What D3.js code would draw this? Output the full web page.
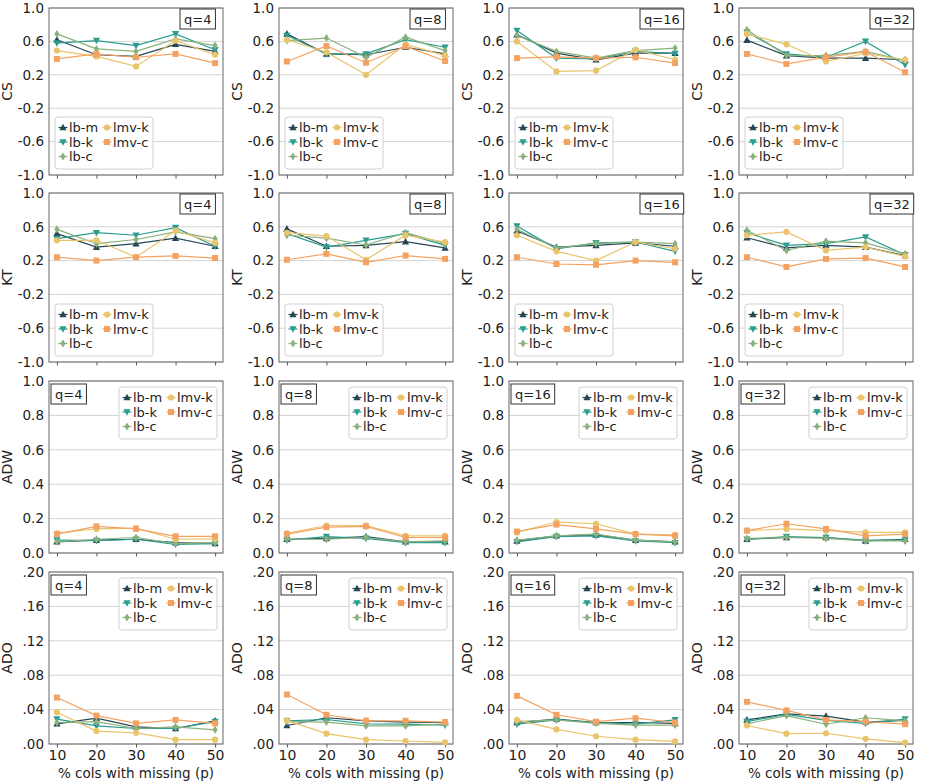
<!DOCTYPE html>
<html>
<head>
<meta charset="utf-8">
<script src="https://cdn.jsdelivr.net/npm/d3@7"></script>
<style>
  body { margin: 0; background: #fff; }
  svg { font-family: "DejaVu Sans", sans-serif; }
</style>
</head>
<body>
<svg id="chart" width="925" height="782"></svg>
<script>
const pValues = [10, 20, 30, 40, 50];
const qValues = [4, 8, 16, 32];
const metricNames = ["CS", "KT", "ADW", "ADO"];
const seriesNames = ["lb-m", "lb-k", "lb-c", "lmv-k", "lmv-c"];
const seriesColors = ["#264653", "#2a9d8f", "#8ab17d", "#e9c46a", "#f4a261"];
const seriesMarkers = ["triUp", "triDown", "diamond", "circle", "square"];
const corrTicks = [-1.0, -0.6, -0.2, 0.2, 0.6, 1.0];
const adwTicks = [0, 0.2, 0.4, 0.6, 0.8, 1.0];
const adoTicks = [0, 0.04, 0.08, 0.12, 0.16, 0.20];

// each panel: one row per series, in seriesNames order
const csQ4 = [
  [0.62, 0.44, 0.42, 0.565, 0.48],
  [0.58, 0.61, 0.55, 0.69, 0.50],
  [0.69, 0.51, 0.48, 0.63, 0.55],
  [0.49, 0.42, 0.30, 0.61, 0.44],
  [0.39, 0.45, 0.41, 0.45, 0.34]];
const csQ8 = [
  [0.69, 0.45, 0.44, 0.53, 0.45],
  [0.67, 0.45, 0.45, 0.62, 0.53],
  [0.61, 0.64, 0.41, 0.65, 0.49],
  [0.62, 0.47, 0.20, 0.565, 0.43],
  [0.36, 0.545, 0.345, 0.54, 0.365]];
const csQ16 = [
  [0.68, 0.46, 0.38, 0.46, 0.46],
  [0.73, 0.40, 0.39, 0.48, 0.455],
  [0.67, 0.48, 0.40, 0.49, 0.52],
  [0.60, 0.24, 0.25, 0.50, 0.38],
  [0.40, 0.415, 0.40, 0.41, 0.34]];
const csQ32 = [
  [0.615, 0.43, 0.40, 0.40, 0.38],
  [0.71, 0.45, 0.41, 0.60, 0.32],
  [0.74, 0.43, 0.43, 0.48, 0.37],
  [0.69, 0.565, 0.36, 0.455, 0.38],
  [0.45, 0.33, 0.41, 0.475, 0.23]];

const ktQ4 = [
  [0.52, 0.36, 0.40, 0.465, 0.37],
  [0.46, 0.53, 0.50, 0.59, 0.37],
  [0.57, 0.40, 0.45, 0.54, 0.46],
  [0.44, 0.44, 0.24, 0.555, 0.41],
  [0.24, 0.20, 0.24, 0.255, 0.23]];
const ktQ8 = [
  [0.575, 0.37, 0.38, 0.425, 0.35],
  [0.52, 0.36, 0.44, 0.52, 0.38],
  [0.50, 0.465, 0.385, 0.53, 0.40],
  [0.53, 0.49, 0.21, 0.50, 0.42],
  [0.21, 0.28, 0.18, 0.26, 0.22]];
const ktQ16 = [
  [0.55, 0.36, 0.38, 0.41, 0.37],
  [0.61, 0.34, 0.41, 0.42, 0.31],
  [0.57, 0.35, 0.40, 0.42, 0.40],
  [0.50, 0.31, 0.20, 0.42, 0.34],
  [0.24, 0.16, 0.15, 0.20, 0.18]];
const ktQ32 = [
  [0.47, 0.35, 0.38, 0.36, 0.26],
  [0.53, 0.38, 0.40, 0.48, 0.27],
  [0.56, 0.32, 0.43, 0.41, 0.28],
  [0.50, 0.54, 0.32, 0.36, 0.25],
  [0.24, 0.125, 0.22, 0.23, 0.125]];

const adwQ4 = [
  [0.065, 0.075, 0.08, 0.06, 0.055],
  [0.075, 0.072, 0.08, 0.05, 0.055],
  [0.065, 0.08, 0.09, 0.055, 0.06],
  [0.115, 0.14, 0.145, 0.08, 0.082],
  [0.11, 0.155, 0.14, 0.097, 0.097]];
const adwQ8 = [
  [0.08, 0.085, 0.095, 0.065, 0.065],
  [0.075, 0.095, 0.085, 0.06, 0.06],
  [0.08, 0.08, 0.09, 0.065, 0.07],
  [0.115, 0.16, 0.16, 0.10, 0.10],
  [0.11, 0.15, 0.155, 0.09, 0.09]];
const adwQ16 = [
  [0.07, 0.10, 0.105, 0.075, 0.065],
  [0.065, 0.095, 0.10, 0.07, 0.06],
  [0.075, 0.10, 0.11, 0.075, 0.065],
  [0.12, 0.18, 0.17, 0.11, 0.105],
  [0.125, 0.165, 0.14, 0.11, 0.10]];
const adwQ32 = [
  [0.08, 0.09, 0.09, 0.07, 0.08],
  [0.08, 0.095, 0.09, 0.075, 0.075],
  [0.085, 0.09, 0.085, 0.07, 0.07],
  [0.13, 0.14, 0.13, 0.12, 0.12],
  [0.13, 0.17, 0.14, 0.10, 0.11]];

const adoQ4 = [
  [0.0235, 0.030, 0.020, 0.018, 0.027],
  [0.029, 0.021, 0.018, 0.018, 0.026],
  [0.025, 0.026, 0.018, 0.020, 0.0165],
  [0.037, 0.015, 0.013, 0.005, 0.005],
  [0.054, 0.033, 0.024, 0.028, 0.024]];
const adoQ8 = [
  [0.0215, 0.0305, 0.027, 0.0255, 0.025],
  [0.027, 0.0285, 0.0235, 0.023, 0.022],
  [0.026, 0.0255, 0.021, 0.021, 0.0235],
  [0.0275, 0.012, 0.005, 0.0035, 0.002],
  [0.0575, 0.034, 0.027, 0.027, 0.0255]];
const adoQ16 = [
  [0.025, 0.029, 0.025, 0.025, 0.024],
  [0.023, 0.028, 0.025, 0.023, 0.028],
  [0.026, 0.028, 0.024, 0.022, 0.022],
  [0.028, 0.017, 0.009, 0.005, 0.003],
  [0.056, 0.034, 0.026, 0.030, 0.025]];
const adoQ32 = [
  [0.028, 0.035, 0.0325, 0.0255, 0.0275],
  [0.026, 0.0345, 0.0275, 0.024, 0.029],
  [0.0235, 0.033, 0.023, 0.0305, 0.027],
  [0.0215, 0.012, 0.0125, 0.006, 0.0015],
  [0.049, 0.039, 0.028, 0.026, 0.023]];

const panelData = [
  [csQ4, csQ8, csQ16, csQ32],
  [ktQ4, ktQ8, ktQ16, ktQ32],
  [adwQ4, adwQ8, adwQ16, adwQ32],
  [adoQ4, adoQ8, adoQ16, adoQ32]];

const rowTicks = [corrTicks, corrTicks, adwTicks, adoTicks];
const rowDomains = [[-1, 1], [-1, 1], [0, 1], [0, 0.2]];
const rowFormats = [
  d => d.toFixed(1),
  d => d.toFixed(1),
  d => d.toFixed(1),
  d => d.toFixed(2).replace(/^0/, "")];

const colLeft = [49, 279, 509, 739];
const plotW = 174;
const rowTop = [8, 193, 381, 572];
const rowHeight = [167, 169, 172, 172];

const svg = d3.select("#chart");

function markerPath(kind) {
  if (kind === "triUp") return "M0,-3.8L3.6,2.8L-3.6,2.8Z";
  if (kind === "triDown") return "M0,3.8L3.6,-2.8L-3.6,-2.8Z";
  if (kind === "diamond") return "M0,-4L2.6,0L0,4L-2.6,0Z";
  if (kind === "square") return "M-3,-3H3V3H-3Z";
  return d3.symbol(d3.symbolCircle, 30)();
}

function drawPanel(row, col) {
  let h = rowHeight[row];
  let g = svg.append("g")
    .attr("transform", `translate(${colLeft[col]},${rowTop[row]})`);

  let x = d3.scaleLinear().domain([8, 52]).range([0, plotW]);
  let y = d3.scaleLinear().domain(rowDomains[row]).range([h, 0]);

  // grid
  g.append("g")
    .selectAll("line")
    .data(rowTicks[row])
    .join("line")
    .attr("x1", 0)
    .attr("x2", plotW)
    .attr("y1", d => y(d))
    .attr("y2", d => y(d))
    .attr("stroke", "#d4d4d4")
    .attr("stroke-width", 1);

  // y axis
  let yAxis = g.append("g")
    .call(d3.axisLeft(y).tickValues(rowTicks[row]).tickFormat(rowFormats[row]).tickSize(0).tickPadding(5));
  yAxis.select(".domain").remove();
  yAxis.selectAll("text").attr("font-size", 13.5).attr("fill", "#222").attr("font-family", "DejaVu Sans");

  // x axis
  let xAxis = g.append("g")
    .attr("transform", `translate(0,${h})`)
    .call(d3.axisBottom(x).tickValues(pValues).tickSize(3.5).tickPadding(3));
  xAxis.select(".domain").remove();
  xAxis.selectAll("line").attr("stroke", "#555");
  if (row === 3) {
    xAxis.selectAll("text").attr("font-size", 14).attr("fill", "#222").attr("font-family", "DejaVu Sans");
  } else {
    xAxis.selectAll("text").remove();
  }

  // frame
  g.append("rect")
    .attr("width", plotW)
    .attr("height", h)
    .attr("fill", "none")
    .attr("stroke", "#666")
    .attr("stroke-width", 1);

  // y label
  g.append("text")
    .attr("transform", `translate(${-37},${h / 2}) rotate(-90)`)
    .attr("text-anchor", "middle")
    .attr("font-size", 14)
    .attr("fill", "#222")
    .text(metricNames[row]);

  if (row === 3) {
    g.append("text")
      .attr("x", plotW / 2)
      .attr("y", h + 34)
      .attr("text-anchor", "middle")
      .attr("font-size", 13.5)
      .attr("fill", "#222")
      .text("% cols with missing (p)");
  }

  // series
  let line = d3.line()
    .x((d, i) => x(pValues[i]))
    .y(d => y(d));

  panelData[row][col].forEach((vals, s) => {
    g.append("path")
      .attr("d", line(vals))
      .attr("fill", "none")
      .attr("stroke", seriesColors[s])
      .attr("stroke-width", 1.2);

    g.append("g")
      .selectAll("path")
      .data(vals)
      .join("path")
      .attr("transform", (d, i) => `translate(${x(pValues[i])},${y(d)})`)
      .attr("d", markerPath(seriesMarkers[s]))
      .attr("fill", seriesColors[s]);
  });

  // legend
  let lx, ly;
  if (row < 2) {
    lx = 6;
    ly = h - 6 - 52;
  } else {
    lx = plotW - 6 - 98;
    ly = 6;
  }
  let leg = g.append("g").attr("transform", `translate(${lx},${ly})`);
  leg.append("rect")
    .attr("width", 98)
    .attr("height", 52)
    .attr("rx", 3)
    .attr("fill", "#fff")
    .attr("fill-opacity", 0.85)
    .attr("stroke", "#d0d0d0");

  seriesNames.forEach((name, s) => {
    let cx = s < 3 ? 8 : 52;
    let cy = 10.5 + (s < 3 ? s : s - 3) * 14.5;
    leg.append("line")
      .attr("x1", cx - 4.5)
      .attr("x2", cx + 4.5)
      .attr("y1", cy)
      .attr("y2", cy)
      .attr("stroke", seriesColors[s])
      .attr("stroke-width", 1.2);
    leg.append("path")
      .attr("transform", `translate(${cx},${cy})`)
      .attr("d", markerPath(seriesMarkers[s]))
      .attr("fill", seriesColors[s]);
    leg.append("text")
      .attr("x", cx + 6)
      .attr("y", cy)
      .attr("dy", "0.35em")
      .attr("font-size", 13)
      .attr("fill", "#222")
      .text(name);
  });

  // q label box
  let qx = row < 2 ? 131 : 2;
  let qg = g.append("g").attr("transform", `translate(${qx},${row < 2 ? 1 : 3})`);
  let qt = qg.append("text")
    .attr("x", 4)
    .attr("y", 10)
    .attr("dy", "0.35em")
    .attr("font-size", 13)
    .attr("fill", "#222")
    .text("q=" + qValues[col]);
  let bb = qt.node().getBBox();
  qg.insert("rect", "text")
    .attr("x", 0)
    .attr("y", 0)
    .attr("width", bb.width + 8)
    .attr("height", 20)
    .attr("fill", "#fff")
    .attr("stroke", "#333")
    .attr("stroke-width", 1);
}

for (let r = 0; r < 4; r++) {
  for (let c = 0; c < 4; c++) {
    drawPanel(r, c);
  }
}
</script>
</body>
</html>
